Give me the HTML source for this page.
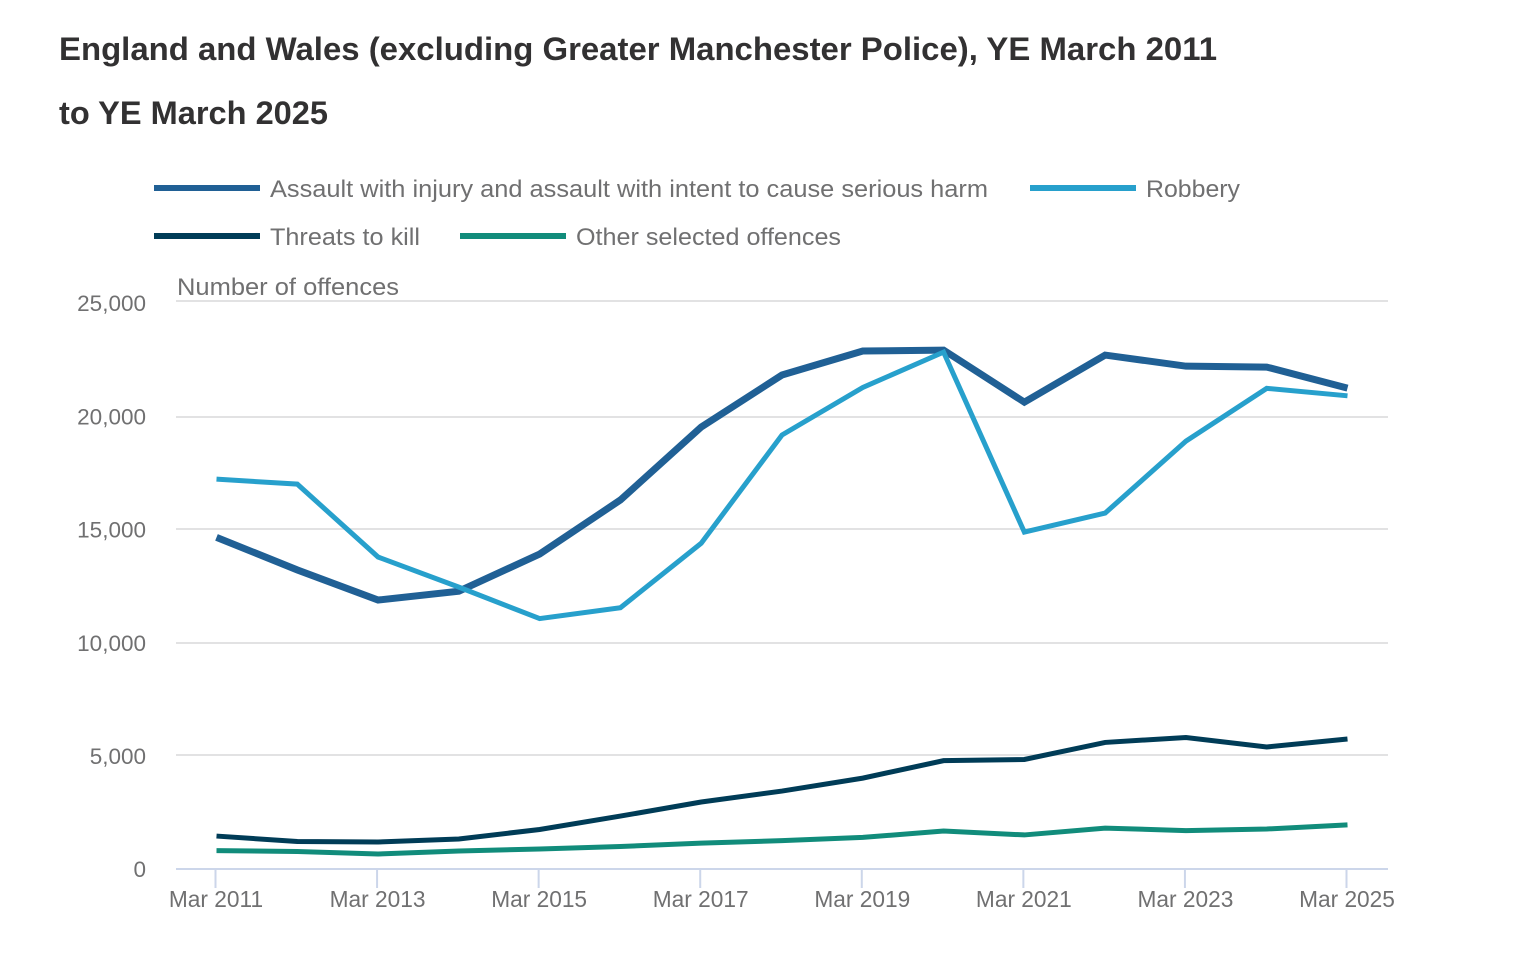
<!DOCTYPE html>
<html lang="en">
<head>
<meta charset="utf-8">
<title>England and Wales offences chart</title>
<style>
  html, body { margin: 0; padding: 0; background: #ffffff; }
  svg { display: block; font-family: "Liberation Sans", sans-serif; }
  .title { font-size: 32px; font-weight: 700; fill: #323132; }
  .legend { font-size: 24px; fill: #707071; }
  .tick { font-size: 22.5px; fill: #707071; }
  .xtick { font-size: 22.7px; fill: #707071; }
</style>
</head>
<body>
<svg id="chart" width="1528" height="976" viewBox="0 0 1528 976" xmlns="http://www.w3.org/2000/svg">
  <text class="title" x="59" y="60" textLength="1158" lengthAdjust="spacingAndGlyphs">England and Wales (excluding Greater Manchester Police), YE March 2011</text>
  <text class="title" x="59" y="124" textLength="269" lengthAdjust="spacingAndGlyphs">to YE March 2025</text>

  <g>
    <rect x="154" y="185" width="106" height="6" fill="#206095"/>
    <text class="legend" x="270" y="197" textLength="718" lengthAdjust="spacingAndGlyphs">Assault with injury and assault with intent to cause serious harm</text>
    <rect x="1030" y="185" width="106" height="6" fill="#27a0cc"/>
    <text class="legend" x="1146" y="197" textLength="94" lengthAdjust="spacingAndGlyphs">Robbery</text>
    <rect x="154" y="233" width="106" height="6" fill="#003c57"/>
    <text class="legend" x="270" y="245" textLength="150" lengthAdjust="spacingAndGlyphs">Threats to kill</text>
    <rect x="460" y="233" width="106" height="6" fill="#118c7b"/>
    <text class="legend" x="576" y="245" textLength="265" lengthAdjust="spacingAndGlyphs">Other selected offences</text>
  </g>

  <text class="legend" x="177" y="295" textLength="222" lengthAdjust="spacingAndGlyphs">Number of offences</text>
  <g id="grid"></g>
  <g id="xaxis"></g>
  <g id="series"></g>
</svg>
<script>
const categories = ["Mar 2011","Mar 2012","Mar 2013","Mar 2014","Mar 2015","Mar 2016","Mar 2017","Mar 2018","Mar 2019","Mar 2020","Mar 2021","Mar 2022","Mar 2023","Mar 2024","Mar 2025"];
const yTicks = [0, 5000, 10000, 15000, 20000, 25000];
const assault = [14650,13210,11880,12270,13910,16300,19520,21820,22880,22920,20620,22700,22210,22170,21240];
const robbery = [17220,17000,13780,12450,11060,11540,14390,19170,21270,22830,14880,15720,18900,21230,20900];
const threats = [1455,1214,1194,1325,1746,2338,2960,3442,4014,4787,4837,5590,5810,5389,5740];
const other = [813,773,662,793,883,993,1144,1254,1395,1676,1505,1806,1696,1766,1947];

const NS = "http://www.w3.org/2000/svg";
const xScale = i => 216.5 + (1347.5 - 216.5) * i / (categories.length - 1);
const yScale = v => 869 - (869 - 303) * v / 25000;
const maxTick = Math.max(...yTicks);
const gridY = v => Math.floor(yScale(v) / 2) * 2 + 1 - (v === maxTick ? 2 : 0);

const grid = document.getElementById("grid");
yTicks.forEach(v => {
  if (v > 0) {
    const line = document.createElementNS(NS, "line");
    
    
    line.setAttribute("x1", 176);
    line.setAttribute("x2", 1388);
    line.setAttribute("y1", gridY(v));
    line.setAttribute("y2", gridY(v));
    line.setAttribute("stroke", "#e2e2e3");
    line.setAttribute("stroke-width", 2);
    grid.appendChild(line);
  }
  const label = document.createElementNS(NS, "text");
  
  
  label.setAttribute("class", "tick");
  label.setAttribute("x", 146);
  label.setAttribute("y", yScale(v) + 8.2);
  label.setAttribute("text-anchor", "end");
  label.textContent = v.toLocaleString("en-GB");
  grid.appendChild(label);
});

const xaxis = document.getElementById("xaxis");
const axisLine = document.createElementNS(NS, "line");


axisLine.setAttribute("x1", 176);
axisLine.setAttribute("x2", 1388);
axisLine.setAttribute("y1", yScale(0));
axisLine.setAttribute("y2", yScale(0));
axisLine.setAttribute("stroke", "#ccd6ea");
axisLine.setAttribute("stroke-width", 2);
xaxis.appendChild(axisLine);

categories.forEach((c, i) => {
  if (i % 2 !== 0) return;
  const tick = document.createElementNS(NS, "line");
  
  
  tick.setAttribute("x1", xScale(i) - 1);
  tick.setAttribute("x2", xScale(i) - 1);
  tick.setAttribute("y1", yScale(0));
  tick.setAttribute("y2", yScale(0) + 19);
  tick.setAttribute("stroke", "#ccd6ea");
  tick.setAttribute("stroke-width", 2);
  xaxis.appendChild(tick);
  const label = document.createElementNS(NS, "text");
  
  
  label.setAttribute("class", "xtick");
  label.setAttribute("x", xScale(i) - 0.5);
  label.setAttribute("y", 907);
  label.setAttribute("text-anchor", "middle");
  label.textContent = c;
  xaxis.appendChild(label);
});

function pointsFor(values) {
  return values.map((v, i) => xScale(i).toFixed(2) + "," + yScale(v).toFixed(2)).join(" ");
}

const seriesGroup = document.getElementById("series");

const assaultLine = document.createElementNS(NS, "polyline");


assaultLine.setAttribute("points", pointsFor(assault));
assaultLine.setAttribute("fill", "none");
assaultLine.setAttribute("stroke", "#206095");
assaultLine.setAttribute("stroke-width", 7);
seriesGroup.appendChild(assaultLine);

const robberyLine = document.createElementNS(NS, "polyline");


robberyLine.setAttribute("points", pointsFor(robbery));
robberyLine.setAttribute("fill", "none");
robberyLine.setAttribute("stroke", "#27a0cc");
robberyLine.setAttribute("stroke-width", 5);
seriesGroup.appendChild(robberyLine);

const threatsLine = document.createElementNS(NS, "polyline");


threatsLine.setAttribute("points", pointsFor(threats));
threatsLine.setAttribute("fill", "none");
threatsLine.setAttribute("stroke", "#003c57");
threatsLine.setAttribute("stroke-width", 5);
seriesGroup.appendChild(threatsLine);

const otherLine = document.createElementNS(NS, "polyline");


otherLine.setAttribute("points", pointsFor(other));
otherLine.setAttribute("fill", "none");
otherLine.setAttribute("stroke", "#118c7b");
otherLine.setAttribute("stroke-width", 5);
seriesGroup.appendChild(otherLine);
</script>
</body>
</html>
